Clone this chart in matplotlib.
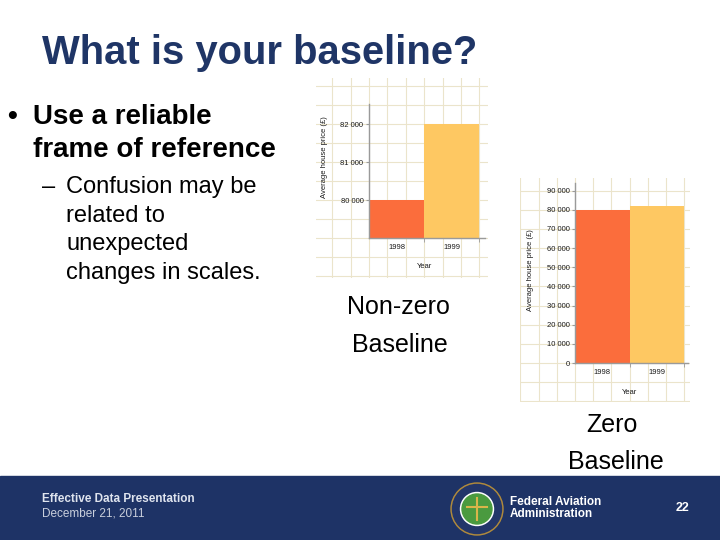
import numpy as np
import matplotlib.pyplot as plt
from matplotlib.patches import Rectangle, Circle

plt.rcParams['font.family'] = ['Liberation Sans', 'DejaVu Sans']

# data
years = ['1998', '1999']
prices = [80000, 82000]
bar_colors = ['#fb6d3c', '#fec862']

# non-zero baseline chart limits / ticks
nz_ylim = (79000, 82530)
nz_ticks = [80000, 81000, 82000]
# zero baseline chart limits / ticks
z_ylim = (0, 94000)
z_ticks = list(range(0, 90001, 10000))

title = 'What is your baseline?'
bullet = ['Use a reliable', 'frame of reference']
sub_bullet = ['Confusion may be', 'related to', 'unexpected', 'changes in scales.']

W, H = 720, 540
navy = '#1f3566'
grid_col = '#ebe4cb'
axis_col = '#9a9a9a'


def box(x0, y0, x1, y1):
    # pixel box (top-left origin) -> figure fraction rect
    return [x0 / W, 1 - y1 / H, (x1 - x0) / W, (y1 - y0) / H]


def fmt(v):
    return f'{v:,}'.replace(',', ' ')


fig = plt.figure(figsize=(7.2, 5.4), dpi=100)
fig.patch.set_facecolor('white')

# full-slide overlay in pixel units
slide = fig.add_axes([0, 0, 1, 1])
slide.set_xlim(0, W)
slide.set_ylim(H, 0)
slide.axis('off')


def house_chart(ax_px, bg_px, ylim, ticks, ystep, ylab_xy, year_y, xmax):
    ax = fig.add_axes(box(*ax_px))
    # background grid, aligned with the chart's own data scale
    bg = fig.add_axes(box(*bg_px), zorder=-1)
    ax_w = ax_px[2] - ax_px[0]
    ax_h = ax_px[3] - ax_px[1]
    sx = xmax / ax_w
    sy = (ylim[1] - ylim[0]) / ax_h
    bx0 = (bg_px[0] - ax_px[0]) * sx
    bx1 = (bg_px[2] - ax_px[0]) * sx
    by0 = ylim[0] + (ax_px[3] - bg_px[3]) * sy
    by1 = ylim[0] + (ax_px[3] - bg_px[1]) * sy
    bg.set_xlim(bx0, bx1)
    bg.set_ylim(by0, by1)
    bg.set_xticks(np.arange(np.ceil(bx0 * 3) / 3, bx1, 1 / 3))
    bg.set_yticks(np.arange(np.ceil(by0 / ystep) * ystep, by1, ystep))
    bg.grid(True, color=grid_col, lw=0.8)
    bg.tick_params(length=0, labelbottom=False, labelleft=False)
    for s in bg.spines.values():
        s.set_visible(False)

    ax.patch.set_alpha(0)
    ax.bar(np.arange(len(years)), prices, width=1.0, align='edge',
           color=bar_colors, zorder=2)
    ax.set_xlim(0, xmax)
    ax.set_ylim(*ylim)
    ax.set_yticks(ticks)
    ax.set_yticklabels([fmt(t) for t in ticks], fontsize=5.5, color='#1a1a1a')
    ax.set_xticks(np.arange(len(years)) + 0.5)
    ax.set_xticklabels(years, fontsize=5.5, color='#1a1a1a')
    ax.set_xticks(np.arange(1, len(years) + 1), minor=True)
    ax.tick_params(axis='x', which='major', length=0, pad=4)
    ax.tick_params(axis='x', which='minor', length=3, color=axis_col)
    ax.tick_params(axis='y', length=2, color=axis_col, pad=2)
    for s in ['top', 'right']:
        ax.spines[s].set_visible(False)
    for s in ['left', 'bottom']:
        ax.spines[s].set_color(axis_col)
        ax.spines[s].set_linewidth(1)
    slide.text(ylab_xy[0], ylab_xy[1], 'Average house price (£)', rotation=90,
               fontsize=5.5, ha='center', va='center', color='#1a1a1a')
    slide.text((ax_px[0] + ax_px[0] + ax_w * len(years) / xmax) / 2, year_y, 'Year',
               fontsize=5.5, ha='center', va='center', color='#1a1a1a')
    return ax


house_chart((369, 104, 485, 238), (316, 78, 488, 278), nz_ylim, nz_ticks, 500,
            (325, 157), 266, 2.1)
house_chart((575, 183, 688, 363), (520, 178, 690, 402), z_ylim, z_ticks, 10000,
            (531, 270), 392, 2.07)

# slide text
slide.text(42, 53, title, fontsize=28.8, fontweight='bold', color=navy,
           ha='left', va='center')
slide.text(7, 117, '•', fontsize=20, fontweight='bold', ha='left', va='center')
for i, line in enumerate(bullet):
    slide.text(33, 117 + 33 * i, line, fontsize=20, fontweight='bold',
               ha='left', va='center')
slide.text(42, 187, '–', fontsize=17, ha='left', va='center')
for i, line in enumerate(sub_bullet):
    slide.text(66, 187 + 28.7 * i, line, fontsize=17, ha='left', va='center')

slide.text(398, 307, 'Non-zero', fontsize=18, ha='center', va='center')
slide.text(400, 345, 'Baseline', fontsize=18, ha='center', va='center')
slide.text(612, 425, 'Zero', fontsize=18, ha='center', va='center')
slide.text(616, 462, 'Baseline', fontsize=18, ha='center', va='center')

# footer band
slide.add_patch(Rectangle((0, 476), W, H - 476, color='#1e3366', zorder=1))
slide.text(42, 499, 'Effective Data Presentation', fontsize=8.5, fontweight='bold',
           color='#dfe4ee', ha='left', va='center', zorder=3)
slide.text(42, 513, 'December 21, 2011', fontsize=8.5, color='#c9cfdc',
           ha='left', va='center', zorder=3)
slide.text(510, 502, 'Federal Aviation', fontsize=8.5, fontweight='bold',
           color='white', ha='left', va='center', zorder=3)
slide.text(510, 514, 'Administration', fontsize=8.5, fontweight='bold',
           color='white', ha='left', va='center', zorder=3)
slide.text(683, 508, '22', fontsize=9, fontweight='bold', color='white',
           ha='center', va='center', zorder=3)

# FAA seal
cx, cy = 477, 509
slide.add_patch(Circle((cx, cy), 26, color='#b08a3c', zorder=3))
slide.add_patch(Circle((cx, cy), 24.5, color='#23366a', zorder=3))
slide.add_patch(Circle((cx, cy), 16.5, color='white', zorder=3))
slide.add_patch(Circle((cx, cy), 15, color='#4a9a3f', zorder=3))
slide.plot([cx, cx], [cy - 11, cy + 11], color='#d9b54a', lw=1.5, zorder=4)
slide.plot([cx - 10, cx + 10], [cy - 2, cy - 2], color='#d9b54a', lw=1.5, zorder=4)

fig.savefig('out.png', dpi=100)
